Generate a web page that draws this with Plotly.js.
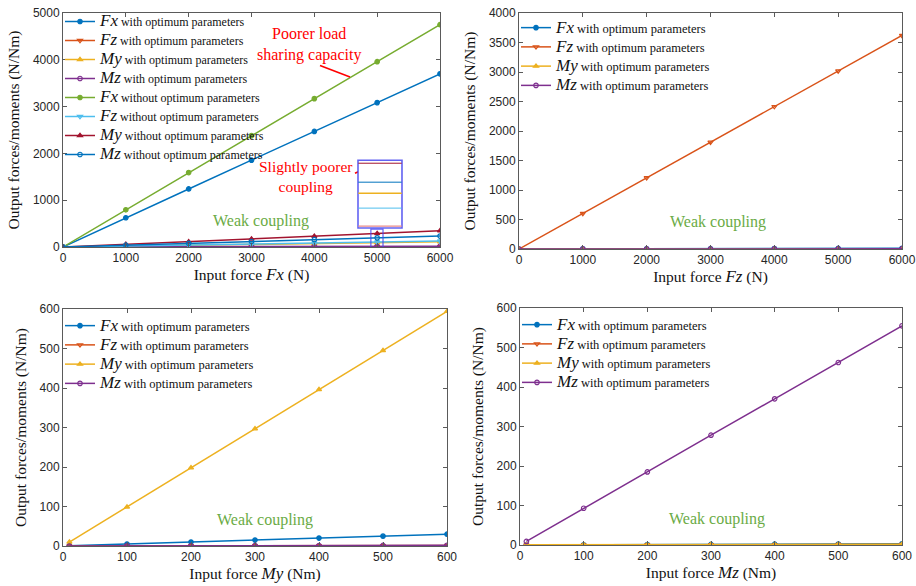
<!DOCTYPE html>
<html>
<head>
<meta charset="utf-8">
<script src="https://cdn.plot.ly/plotly-3.0.1.min.js"></script>
<style>html,body{margin:0;padding:0;background:#fff;}#chart{width:916px;height:586px;}</style>
</head>
<body>
<div id="chart"></div>
<script>
// ---------- DATA ----------
// Panel (a): input force Fx (N)
const xFx = [0, 1000, 2000, 3000, 4000, 5000, 6000];
const a_FxWith    = [0, 625, 1240, 1855, 2470, 3085, 3700];
const a_FzWith    = [0, 1, 2, 3, 4, 5, 6];
const a_MyWith    = [0, 18, 37, 55, 73, 92, 110];
const a_MzWith    = [0, 3, 6, 9, 12, 15, 18];
const a_FxWithout = [0, 795, 1590, 2380, 3170, 3960, 4750];
const a_FzWithout = [0, 21, 42, 63, 84, 105, 126];
const a_MyWithout = [0, 57, 115, 172, 230, 287, 345];
const a_MzWithout = [0, 39, 78, 117, 156, 195, 234];

// Panel (b): input force Fz (N)
const xFz = [0, 1000, 2000, 3000, 4000, 5000, 6000];
const b_Fx = [0, 2, 4, 6, 8, 10, 12];
const b_Fz = [0, 603, 1207, 1810, 2413, 3017, 3620];
const b_My = [0, 1, 1, 2, 2, 3, 3];
const b_Mz = [0, 0.5, 1, 1.5, 2, 2.5, 3];

// Panel (c): input moment My (Nm)
const xMy = [10, 100, 200, 300, 400, 500, 600];
const c_Fx = [0.5, 5, 10, 15, 20, 25, 30];
const c_Fz = [0, 0.2, 0.4, 0.6, 0.8, 1.0, 1.2];
const c_My = [10, 99, 198, 297, 396, 495, 594];
const c_Mz = [0, 0.3, 0.6, 0.9, 1.2, 1.5, 1.8];

// Panel (d): input moment Mz (Nm)
const xMz = [10, 100, 200, 300, 400, 500, 600];
const d_Fx = [0, 0.5, 1, 1.5, 2, 2.5, 3];
const d_Fz = [0, 0.2, 0.4, 0.6, 0.8, 1.0, 1.2];
const d_My = [0.5, 1, 1, 1.5, 1.5, 2, 2];
const d_Mz = [9, 93, 185, 278, 370, 462, 555];

// ---------- STYLE ----------
const C = {blue:'#0072BD', orange:'#D95319', yellow:'#EDB120', purple:'#7E2F8E',
           green:'#77AC30', cyan:'#4DBEEE', dred:'#A2142F'};
const SERIF = 'Liberation Serif, Times New Roman, serif';
const SANS = 'Liberation Sans, Arial, sans-serif';
const sym = n => "<span style='font-size:17px'><i>" + n + "</i></span>";

function tr(x, y, name, color, symbol, xa, ya, leg) {
  return {
    x: x, y: y, name: name, type: 'scatter', mode: 'lines+markers',
    xaxis: xa, yaxis: ya, legend: leg,
    line: {color: color, width: 1.5},
    marker: {color: color, symbol: symbol, size: 4.5, line: {color: color, width: 1.2}},
  };
}
const withTxt = ' with optimum parameters';
const withoutTxt = ' without optimum parameters';

const traces = [
  tr(xFx, a_FxWith, sym('Fx') + withTxt, C.blue, 'circle', 'x', 'y', 'legend'),
  tr(xFx, a_FzWith, sym('Fz') + withTxt, C.orange, 'triangle-down-open', 'x', 'y', 'legend'),
  tr(xFx, a_MyWith, sym('My') + withTxt, C.yellow, 'triangle-up', 'x', 'y', 'legend'),
  tr(xFx, a_MzWith, sym('Mz') + withTxt, C.purple, 'circle-open', 'x', 'y', 'legend'),
  tr(xFx, a_FxWithout, sym('Fx') + withoutTxt, C.green, 'circle', 'x', 'y', 'legend'),
  tr(xFx, a_FzWithout, sym('Fz') + withoutTxt, C.cyan, 'triangle-down-open', 'x', 'y', 'legend'),
  tr(xFx, a_MyWithout, sym('My') + withoutTxt, C.dred, 'triangle-up', 'x', 'y', 'legend'),
  tr(xFx, a_MzWithout, sym('Mz') + withoutTxt, C.blue, 'circle-open', 'x', 'y', 'legend'),

  tr(xFz, b_Fx, sym('Fx') + withTxt, C.blue, 'circle', 'x2', 'y2', 'legend2'),
  tr(xFz, b_Fz, sym('Fz') + withTxt, C.orange, 'triangle-down-open', 'x2', 'y2', 'legend2'),
  tr(xFz, b_My, sym('My') + withTxt, C.yellow, 'triangle-up', 'x2', 'y2', 'legend2'),
  tr(xFz, b_Mz, sym('Mz') + withTxt, C.purple, 'circle-open', 'x2', 'y2', 'legend2'),

  tr(xMy, c_Fx, sym('Fx') + withTxt, C.blue, 'circle', 'x3', 'y3', 'legend3'),
  tr(xMy, c_Fz, sym('Fz') + withTxt, C.orange, 'triangle-down-open', 'x3', 'y3', 'legend3'),
  tr(xMy, c_My, sym('My') + withTxt, C.yellow, 'triangle-up', 'x3', 'y3', 'legend3'),
  tr(xMy, c_Mz, sym('Mz') + withTxt, C.purple, 'circle-open', 'x3', 'y3', 'legend3'),

  tr(xMz, d_Fx, sym('Fx') + withTxt, C.blue, 'circle', 'x4', 'y4', 'legend4'),
  tr(xMz, d_Fz, sym('Fz') + withTxt, C.orange, 'triangle-down-open', 'x4', 'y4', 'legend4'),
  tr(xMz, d_My, sym('My') + withTxt, C.yellow, 'triangle-up', 'x4', 'y4', 'legend4'),
  tr(xMz, d_Mz, sym('Mz') + withTxt, C.purple, 'circle-open', 'x4', 'y4', 'legend4'),
];

const W = 916, H = 586;
const px = v => v / W, py = v => 1 - v / H;

function xax(domain, range, dtick, titleHtml, anchor) {
  return {
    domain: domain, range: range, dtick: dtick, tick0: 0, anchor: anchor,
    showgrid: false, zeroline: false, showline: true, linecolor: '#5a5a5a', linewidth: 1,
    mirror: 'ticks', ticks: 'inside', ticklen: 4, tickcolor: '#5a5a5a',
    tickfont: {family: SANS, size: 12, color: '#262626'},
    title: {text: titleHtml, font: {family: SERIF, size: 15.5, color: '#111'}, standoff: 0},
  };
}
function yax(domain, range, dtick, anchor) {
  return {
    domain: domain, range: range, dtick: dtick, tick0: 0, anchor: anchor,
    showgrid: false, zeroline: false, showline: true, linecolor: '#5a5a5a', linewidth: 1,
    mirror: 'ticks', ticks: 'inside', ticklen: 4, tickcolor: '#5a5a5a',
    tickfont: {family: SANS, size: 12, color: '#262626'},
    title: {text: 'Output forces/moments (N/Nm)', font: {family: SERIF, size: 15.5, color: '#111'}, standoff: 9},
  };
}
function leg(xp, yp, fs) {
  return {x: px(xp), y: py(yp), xanchor: 'left', yanchor: 'top', bgcolor: 'rgba(255,255,255,0)',
          borderwidth: 0, font: {family: SERIF, size: fs, color: '#111'}, tracegroupgap: 0};
}

const ital = (s) => "<span style='font-size:17px'><i>" + s + "</i></span>";

const weak = (xref, yref, x, y) => ({
  xref: xref, yref: yref, x: x, y: y, text: 'Weak coupling', showarrow: false,
  font: {family: SERIF, size: 16, color: '#6aab45'}, xanchor: 'center', yanchor: 'middle'
});

const boxColor = 'rgba(70,70,240,0.85)';
const layout = {
  width: W, height: H, margin: {l: 0, r: 0, t: 0, b: 0},
  paper_bgcolor: '#fff', plot_bgcolor: '#fff', showlegend: true,
  xaxis:  xax([px(63), px(440)], [0, 6000], 1000, 'Input force ' + ital('Fx') + ' (N)', 'y'),
  yaxis:  yax([py(247), py(13)], [0, 5000], 1000, 'x'),
  xaxis2: xax([px(519), px(902)], [0, 6000], 1000, 'Input force ' + ital('Fz') + ' (N)', 'y2'),
  yaxis2: yax([py(249), py(13)], [0, 4000], 500, 'x2'),
  xaxis3: xax([px(63), px(447)], [0, 600], 100, 'Input force ' + ital('My') + ' (Nm)', 'y3'),
  yaxis3: yax([py(546), py(309)], [0, 600], 100, 'x3'),
  xaxis4: xax([px(520), px(902)], [0, 600], 100, 'Input force ' + ital('Mz') + ' (Nm)', 'y4'),
  yaxis4: yax([py(545), py(308)], [0, 600], 100, 'x4'),
  legend:  leg(60, 7, 12),
  legend2: leg(516, 13, 12.5),
  legend3: leg(60, 311, 12.5),
  legend4: leg(517, 310, 12.5),
  annotations: [
    {xref: 'x', yref: 'y', x: 3920, y: 4330, text: 'Poorer load<br>sharing capacity', showarrow: false,
     font: {family: SERIF, size: 16, color: '#ff0000'}, xanchor: 'center', yanchor: 'middle'},
    {xref: 'x', yref: 'y', x: 3870, y: 1500, text: 'Slightly poorer<br>coupling', showarrow: false,
     font: {family: SERIF, size: 15.5, color: '#ff0000'}, xanchor: 'center', yanchor: 'middle'},
    weak('x', 'y', 3150, 550),
    weak('x2', 'y2', 3120, 450),
    weak('x3', 'y3', 315, 67),
    weak('x4', 'y4', 310, 66),
  ],
  shapes: [
    // red pointer lines
    {type: 'line', xref: 'x', yref: 'y', x0: 4090, y0: 3878, x1: 4568, y1: 3630, line: {color: '#ff0000', width: 1.6}},
    {type: 'line', xref: 'x', yref: 'y', x0: 4647, y0: 1577, x1: 4966, y1: 1769, line: {color: '#ff0000', width: 1.6}},
    // small selection box around x=5000
    {type: 'rect', xref: 'x', yref: 'y', x0: 4900, x1: 5093, y0: -40, y1: 383, line: {color: boxColor, width: 1.2}},
    // magnified inset box
    {type: 'rect', xref: 'x', yref: 'y', x0: 4695, x1: 5395, y0: 405, y1: 1854, fillcolor: '#fff', line: {color: boxColor, width: 1.6}},
    {type: 'line', xref: 'x', yref: 'y', x0: 4700, x1: 5390, y0: 1790, y1: 1790, line: {color: C.dred, width: 1}},
    {type: 'line', xref: 'x', yref: 'y', x0: 4700, x1: 5390, y0: 1385, y1: 1385, line: {color: C.blue, width: 1}},
    {type: 'line', xref: 'x', yref: 'y', x0: 4700, x1: 5390, y0: 1150, y1: 1150, line: {color: C.yellow, width: 1.4}},
    {type: 'line', xref: 'x', yref: 'y', x0: 4700, x1: 5390, y0: 831, y1: 831, line: {color: C.cyan, width: 1}},
    {type: 'line', xref: 'x', yref: 'y', x0: 4700, x1: 5390, y0: 447, y1: 447, line: {color: '#e88a8a', width: 1.4}},
  ],
};

Plotly.newPlot('chart', traces, layout, {displayModeBar: false, staticPlot: true});
</script>
</body>
</html>
